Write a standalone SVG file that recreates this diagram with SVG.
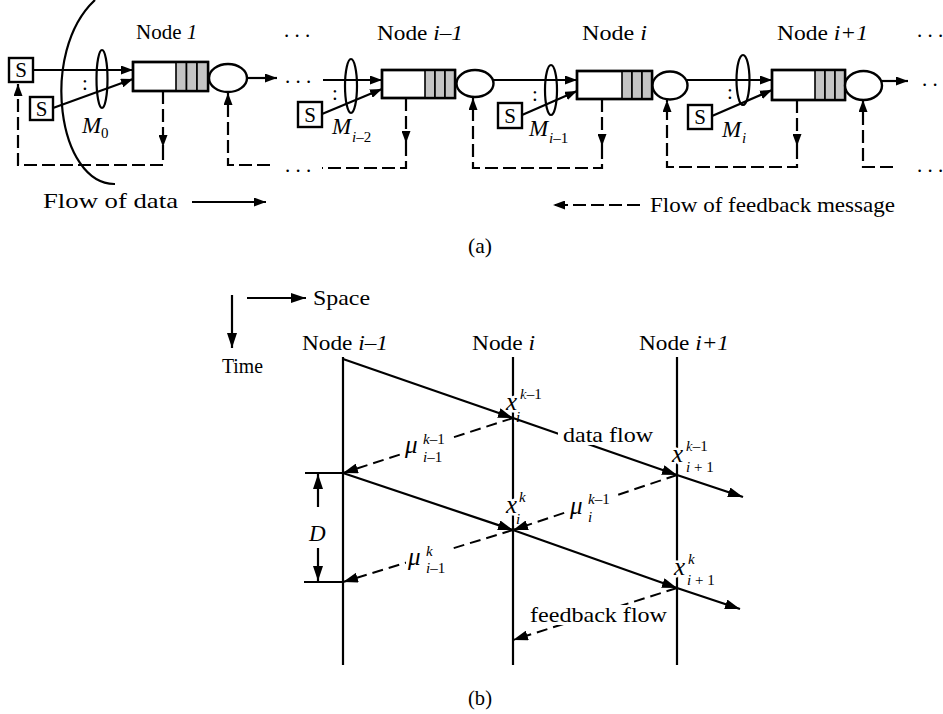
<svg xmlns="http://www.w3.org/2000/svg" width="943" height="714" viewBox="0 0 943 714">
<defs>
<style>
text { font-family: "Liberation Serif", "Times New Roman", serif; fill: #000; }
.lb { font-size: 21px; }
.it { font-style: italic; }
.sm { font-size: 15px; }
.big { font-size: 25px; }
.ln { stroke: #000; stroke-width: 2.2; fill: none; }
.dsa { stroke: #000; stroke-width: 2.2; fill: none; stroke-dasharray: 13 5; }
.dsb { stroke: #000; stroke-width: 2; fill: none; stroke-dasharray: 11 6; }
.box { fill: #fff; stroke: #000; stroke-width: 2.4; }
.st { fill: #c4c4c4; stroke: #000; stroke-width: 1.6; }
.ring { fill: none; stroke: #000; stroke-width: 2.2; }
.halo { paint-order: stroke; stroke: #fff; stroke-width: 5; stroke-linejoin: round; }
.bg { fill: #fff; }
</style>
<marker id="ma" markerUnits="userSpaceOnUse" markerWidth="12" markerHeight="9" viewBox="0 0 12 9" refX="12" refY="4.5" orient="auto"><path d="M0,0 L12,4.5 L0,9 z" fill="#000"/></marker>
<marker id="mb" markerUnits="userSpaceOnUse" markerWidth="15" markerHeight="10" viewBox="0 0 15 10" refX="15" refY="5" orient="auto"><path d="M0,0 L15,5 L0,10 z" fill="#000"/></marker>
</defs>
<rect width="943" height="714" fill="#fff"/>

<!-- ===== Part (a) ===== -->
<g id="boundary">
<path class="ln" d="M95,0 C39,52 58,185 115,184"/>
</g>

<g id="connectors-a">
<line class="ln" x1="33" y1="70" x2="133" y2="70" marker-end="url(#ma)"/>
<line class="ln" x1="53" y1="108" x2="133" y2="79" marker-end="url(#ma)"/>
<line class="ln" x1="247" y1="78" x2="277" y2="78" marker-end="url(#ma)"/>
<line class="ln" x1="323" y1="80" x2="382" y2="80" marker-end="url(#ma)"/>
<line class="ln" x1="322" y1="114" x2="382" y2="89" marker-end="url(#ma)"/>
<line class="ln" x1="493" y1="80" x2="577" y2="80" marker-end="url(#ma)"/>
<line class="ln" x1="522" y1="115" x2="577" y2="91" marker-end="url(#ma)"/>
<line class="ln" x1="687" y1="80" x2="772" y2="80" marker-end="url(#ma)"/>
<line class="ln" x1="712" y1="116" x2="772" y2="90" marker-end="url(#ma)"/>
<line class="ln" x1="882" y1="81" x2="908" y2="81" marker-end="url(#ma)"/>
<path class="dsa" d="M163,91 V147" marker-end="url(#ma)"/>
<path class="dsa" d="M163,147 V165 H18 V84" marker-end="url(#ma)"/>
<path class="dsa" d="M270,165 H228 V93" marker-end="url(#ma)"/>
<path class="dsa" d="M406,98 V143" marker-end="url(#ma)"/>
<path class="dsa" d="M406,143 V168 H322"/>
<path class="dsa" d="M602,99 V146" marker-end="url(#ma)"/>
<path class="dsa" d="M602,146 V168 H473 V98" marker-end="url(#ma)"/>
<path class="dsa" d="M797,100 V146" marker-end="url(#ma)"/>
<path class="dsa" d="M797,146 V167 H667 V100" marker-end="url(#ma)"/>
<path class="dsa" d="M893,167 H863 V100" marker-end="url(#ma)"/>
<line class="ln" x1="192" y1="202" x2="266" y2="202" marker-end="url(#ma)"/>
<line class="dsa" x1="640" y1="205" x2="553" y2="205" marker-end="url(#ma)"/>
</g>

<g id="dots-a">
<text class="lb" x="284" y="37">. . .</text>
<text class="lb" x="917" y="37">. . .</text>
<text class="lb" x="285" y="83">. . .</text>
<text class="lb" x="922" y="86">. .</text>
<text class="lb" x="285" y="172">. . .</text>
<text class="lb" x="917" y="172">. . .</text>
</g>

<g id="src-1a">
<rect class="box" x="9" y="58" width="24" height="24" stroke-width="2"/>
<text class="lb" x="21" y="77" text-anchor="middle">S</text>
</g>
<g id="src-1b">
<rect class="box" x="30" y="97" width="23" height="23" stroke-width="2"/>
<text class="lb" x="41.5" y="115.5" text-anchor="middle">S</text>
</g>
<g id="mux-0">
<ellipse class="ring" cx="102" cy="79" rx="5.5" ry="29"/>
<text class="lb" x="85" y="90" text-anchor="middle">:</text>
<text><tspan class="it" x="82" y="133" font-size="23">M</tspan><tspan class="sm" x="101" y="138">0</tspan></text>
</g>
<g id="node-1">
<rect class="box" x="133" y="62" width="75" height="29"/>
<rect class="st" x="176" y="62" width="10.5" height="29"/>
<rect class="st" x="186.5" y="62" width="10.5" height="29"/>
<rect class="st" x="197" y="62" width="11" height="29"/>
<rect x="133" y="62" width="75" height="29" fill="none" stroke="#000" stroke-width="2.4"/>
<ellipse class="box" cx="228" cy="78" rx="19" ry="14" stroke-width="2.2"/>
<text class="lb" x="136" y="39">Node <tspan class="it">1</tspan></text>
</g>

<g id="src-2">
<rect class="box" x="298" y="102" width="24" height="25" stroke-width="2"/>
<text class="lb" x="310" y="122" text-anchor="middle">S</text>
</g>
<g id="mux-1">
<ellipse class="ring" cx="351" cy="86" rx="6" ry="27"/>
<text class="lb" x="335" y="100" text-anchor="middle">:</text>
<text><tspan class="it" x="332" y="134" font-size="23">M</tspan><tspan class="sm" x="352" y="142"><tspan class="it">i</tspan>–2</tspan></text>
</g>
<g id="node-im1">
<rect class="box" x="382" y="70" width="73" height="28"/>
<rect class="st" x="425" y="70" width="10" height="28"/>
<rect class="st" x="435" y="70" width="10" height="28"/>
<rect class="st" x="445" y="70" width="10" height="28"/>
<rect x="382" y="70" width="73" height="28" fill="none" stroke="#000" stroke-width="2.4"/>
<ellipse class="box" cx="475" cy="83.5" rx="18.5" ry="13.5" stroke-width="2.2"/>
<text class="lb" x="377" y="40" textLength="86" lengthAdjust="spacingAndGlyphs">Node <tspan class="it">i–1</tspan></text>
</g>

<g id="src-3">
<rect class="box" x="498" y="103" width="24" height="25" stroke-width="2"/>
<text class="lb" x="510" y="123" text-anchor="middle">S</text>
</g>
<g id="mux-2">
<ellipse class="ring" cx="551" cy="90" rx="6" ry="25"/>
<text class="lb" x="535" y="101" text-anchor="middle">:</text>
<text><tspan class="it" x="529" y="136" font-size="23">M</tspan><tspan class="sm" x="549" y="143"><tspan class="it">i</tspan>–1</tspan></text>
</g>
<g id="node-i">
<rect class="box" x="577" y="71" width="75" height="28"/>
<rect class="st" x="622" y="71" width="10" height="28"/>
<rect class="st" x="632" y="71" width="10" height="28"/>
<rect class="st" x="642" y="71" width="10" height="28"/>
<rect x="577" y="71" width="75" height="28" fill="none" stroke="#000" stroke-width="2.4"/>
<ellipse class="box" cx="670" cy="85.5" rx="17.5" ry="14" stroke-width="2.2"/>
<text class="lb" x="582" y="40" textLength="65" lengthAdjust="spacingAndGlyphs">Node <tspan class="it">i</tspan></text>
</g>

<g id="src-4">
<rect class="box" x="688" y="105" width="24" height="24" stroke-width="2"/>
<text class="lb" x="700" y="124" text-anchor="middle">S</text>
</g>
<g id="mux-3">
<ellipse class="ring" cx="743" cy="80" rx="6.5" ry="25"/>
<text class="lb" x="730" y="99" text-anchor="middle">:</text>
<text><tspan class="it" x="722" y="137" font-size="23">M</tspan><tspan class="sm it" x="742" y="143">i</tspan></text>
</g>
<g id="node-ip1">
<rect class="box" x="772" y="70" width="73" height="30"/>
<rect class="st" x="815" y="70" width="10" height="30"/>
<rect class="st" x="825" y="70" width="10" height="30"/>
<rect class="st" x="835" y="70" width="10" height="30"/>
<rect x="772" y="70" width="73" height="30" fill="none" stroke="#000" stroke-width="2.4"/>
<ellipse class="box" cx="863.5" cy="85.5" rx="18.5" ry="14.5" stroke-width="2.2"/>
<text class="lb" x="777" y="40" textLength="91" lengthAdjust="spacingAndGlyphs">Node <tspan class="it">i+1</tspan></text>
</g>

<g id="legend-a">
<text class="lb" x="43" y="208" textLength="135" lengthAdjust="spacingAndGlyphs">Flow of data</text>
<text class="lb" x="650" y="212" textLength="245" lengthAdjust="spacingAndGlyphs">Flow of feedback message</text>
<text class="lb" x="468" y="253" textLength="24" lengthAdjust="spacingAndGlyphs">(a)</text>
</g>

<!-- ===== Part (b) ===== -->
<g id="axes-b">
<line class="ln" x1="247" y1="298" x2="306" y2="298" marker-end="url(#mb)"/>
<line class="ln" x1="232" y1="295" x2="232" y2="348" marker-end="url(#mb)"/>
<text class="lb" x="313" y="305" textLength="57" lengthAdjust="spacingAndGlyphs">Space</text>
<text class="lb" x="222" y="373" textLength="41" lengthAdjust="spacingAndGlyphs">Time</text>
</g>

<g id="tl-im1">
<line class="ln" x1="343" y1="357" x2="343" y2="665"/>
<text class="lb" x="302" y="350" textLength="86" lengthAdjust="spacingAndGlyphs">Node <tspan class="it">i–1</tspan></text>
</g>
<g id="tl-i">
<line class="ln" x1="513" y1="357" x2="513" y2="665"/>
<text class="lb" x="472" y="350" textLength="63" lengthAdjust="spacingAndGlyphs">Node <tspan class="it">i</tspan></text>
</g>
<g id="tl-ip1">
<line class="ln" x1="677" y1="357" x2="677" y2="665"/>
<text class="lb" x="639" y="350" textLength="90" lengthAdjust="spacingAndGlyphs">Node <tspan class="it">i+1</tspan></text>
</g>

<g id="xlabels">
<text class="halo"><tspan class="it big" x="506" y="410">x</tspan><tspan class="sm" x="520" y="399"><tspan class="it">k</tspan>–1</tspan><tspan class="sm it" x="516" y="422">i</tspan></text>
<text class="halo"><tspan class="it big" x="672" y="462">x</tspan><tspan class="sm" x="686" y="451"><tspan class="it">k</tspan>–1</tspan><tspan class="sm" x="686" y="472"><tspan class="it">i</tspan> + 1</tspan></text>
<text class="halo"><tspan class="it big" x="506" y="513">x</tspan><tspan class="sm it" x="519" y="502">k</tspan><tspan class="sm it" x="516" y="524">i</tspan></text>
<text class="halo"><tspan class="it big" x="674" y="575">x</tspan><tspan class="sm it" x="688" y="564">k</tspan><tspan class="sm" x="687" y="585"><tspan class="it">i</tspan> + 1</tspan></text>
</g>

<g id="connectors-b">
<line class="ln" x1="343" y1="359" x2="513" y2="418" marker-end="url(#mb)"/>
<line class="ln" x1="513" y1="418" x2="677" y2="475" marker-end="url(#mb)"/>
<line class="ln" x1="677" y1="475" x2="743" y2="497" marker-end="url(#mb)"/>
<line class="ln" x1="343" y1="473" x2="513" y2="530" marker-end="url(#mb)"/>
<line class="ln" x1="513" y1="530" x2="677" y2="588" marker-end="url(#mb)"/>
<line class="ln" x1="677" y1="588" x2="740" y2="609" marker-end="url(#mb)"/>
<line class="dsb" x1="513" y1="418" x2="343" y2="473" marker-end="url(#mb)"/>
<line class="dsb" x1="677" y1="475" x2="513" y2="530" marker-end="url(#mb)"/>
<line class="dsb" x1="513" y1="530" x2="343" y2="582" marker-end="url(#mb)"/>
<line class="dsb" x1="677" y1="588" x2="513" y2="640" marker-end="url(#mb)"/>
</g>

<g id="period-D">
<line class="ln" x1="305" y1="473" x2="343" y2="473"/>
<line class="ln" x1="304" y1="582" x2="343" y2="582"/>
<line class="ln" x1="318" y1="507" x2="318" y2="474" marker-end="url(#mb)"/>
<line class="ln" x1="318" y1="548" x2="318" y2="581" marker-end="url(#mb)"/>
<text class="it" x="309" y="541" font-size="23">D</text>
</g>

<g id="flowlabels">
<rect class="bg" x="403" y="429" width="48" height="36"/>
<text><tspan class="it big" x="405" y="453">μ</tspan><tspan class="sm" x="423" y="444"><tspan class="it">k</tspan>–1</tspan><tspan class="sm" x="423" y="462"><tspan class="it">i</tspan>–1</tspan></text>

<rect class="bg" x="568" y="490" width="47" height="35"/>
<text><tspan class="it big" x="570" y="514">μ</tspan><tspan class="sm" x="588" y="504"><tspan class="it">k</tspan>–1</tspan><tspan class="sm it" x="588" y="522">i</tspan></text>

<rect class="bg" x="406" y="541" width="47" height="35"/>
<text><tspan class="it big" x="408" y="565">μ</tspan><tspan class="sm it" x="426" y="556">k</tspan><tspan class="sm" x="426" y="573"><tspan class="it">i</tspan>–1</tspan></text>

<rect class="bg" x="558" y="428" width="98" height="17"/>
<text class="lb" x="563" y="442" textLength="90" lengthAdjust="spacingAndGlyphs">data flow</text>

<rect class="bg" x="527" y="605" width="143" height="20"/>
<text class="lb" x="530" y="622" textLength="137" lengthAdjust="spacingAndGlyphs">feedback flow</text>

<text class="lb" x="468" y="705" textLength="24" lengthAdjust="spacingAndGlyphs">(b)</text>
</g>
</svg>
